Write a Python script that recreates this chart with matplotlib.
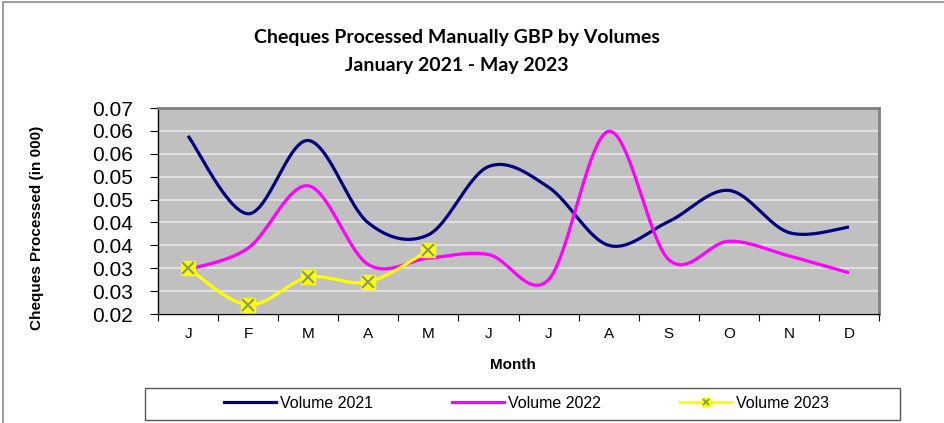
import numpy as np
import matplotlib
matplotlib.use("Agg")
import matplotlib.pyplot as plt
from matplotlib.lines import Line2D
from matplotlib.patches import Rectangle
from matplotlib.legend_handler import HandlerTuple

months = ["J", "F", "M", "A", "M", "J", "J", "A", "S", "O", "N", "D"]
v2021 = [0.0589, 0.0419, 0.0579, 0.0399, 0.0373, 0.0522, 0.0477, 0.0350, 0.0402, 0.0470, 0.0378, 0.0390]
v2022 = [0.0297, 0.0344, 0.0480, 0.0308, 0.0322, 0.0330, 0.0275, 0.0599, 0.0319, 0.0359, 0.0327, 0.0290]
v2023 = [0.0300, 0.0220, 0.0280, 0.0270, 0.0339]
yticks = [0.02, 0.025, 0.03, 0.035, 0.04, 0.045, 0.05, 0.055, 0.06, 0.065]
ytick_labels = ["0.02", "0.03", "0.03", "0.04", "0.04", "0.05", "0.05", "0.06", "0.06", "0.07"]
series_names = ["Volume 2021", "Volume 2022", "Volume 2023"]

W, H = 944, 423
DPI = 100
plt.rcParams['font.family'] = ['Liberation Sans', 'DejaVu Sans']


def smooth(xs, ys, n=40):
    """Excel-style smoothed line (Catmull-Rom Bezier through the points)."""
    P = np.column_stack([xs, ys]).astype(float)
    m = len(P)
    out = []
    for i in range(m - 1):
        p0 = P[i - 1] if i > 0 else P[i]
        p1 = P[i]
        p2 = P[i + 1]
        p3 = P[i + 2] if i + 2 < m else P[i + 1]
        b1 = p1 + (p2 - p0) / 6.0
        b2 = p2 - (p3 - p1) / 6.0
        t = np.linspace(0, 1, n)[:, None]
        seg = ((1 - t) ** 3) * p1 + 3 * ((1 - t) ** 2) * t * b1 + 3 * (1 - t) * t ** 2 * b2 + t ** 3 * p2
        out.append(seg if i == 0 else seg[1:])
    c = np.vstack(out)
    return c[:, 0], c[:, 1]


fig = plt.figure(figsize=(W / DPI, H / DPI), dpi=DPI)
fig.patch.set_facecolor("white")

L, R, T, B = 158, 879, 108, 314
ax = fig.add_axes([L / W, 1 - B / H, (R - L) / W, (B - T) / H])
ax.set_facecolor("#C0C0C0")

x = np.arange(len(months))
navy = "#000080"
mag = "#FF00FF"
yel = "#FFFF00"
xcol = "#8E9E5C"

sx, sy = smooth(x, v2021)
ax.plot(sx, sy, color=navy, lw=2.3, solid_capstyle="butt", zorder=3)
sx, sy = smooth(x, v2022)
ax.plot(sx, sy, color=mag, lw=2.3, solid_capstyle="butt", zorder=3)
x3 = np.arange(len(v2023))
sx, sy = smooth(x3, v2023)
ax.plot(sx, sy, color=yel, lw=2.3, solid_capstyle="butt", zorder=4)
ax.plot(x3, v2023, ls="none", marker="s", ms=10.5, mfc=yel, mec=yel, zorder=5)
ax.plot(x3, v2023, ls="none", marker="x", ms=8.5, mew=1.6, color=xcol, zorder=6)

ax.set_xlim(-0.5, 11.5)
ax.set_ylim(0.02, 0.065)
ax.set_yticks(yticks)
ax.set_yticklabels(ytick_labels)
ax.set_xticks(x)
ax.set_xticklabels(months)
ax.set_xticks(np.arange(-0.5, 12, 1), minor=True)
ax.tick_params(axis="x", which="major", length=0, pad=9, labelsize=11)
ax.tick_params(axis="x", which="minor", length=5, width=0.8, direction="out", color="black")
ax.tick_params(axis="y", which="major", length=6, width=0.8, direction="out", pad=12, labelsize=15)
ax.grid(axis="y", color="#EAEAEA", lw=1.1, zorder=1)
ax.set_axisbelow(True)
for s in ["top", "right"]:
    ax.spines[s].set_color("#808080")
    ax.spines[s].set_linewidth(2)
for s in ["left", "bottom"]:
    ax.spines[s].set_color("black")
    ax.spines[s].set_linewidth(1)

# Titles / labels
fig.text(457 / W, 1 - 38 / H, "Cheques Processed Manually GBP by Volumes", ha="center", va="center",
         fontsize=14, fontweight="bold", family=["Lato", "DejaVu Sans"])
fig.text(457 / W, 1 - 65 / H, "January 2021 - May 2023", ha="center", va="center",
         fontsize=14, fontweight="bold", family=["Lato", "DejaVu Sans"])
fig.text(37 / W, 1 - 228 / H, "Cheques Processed (in 000)", rotation=90, ha="center", va="center",
         fontsize=11, fontweight="bold")
fig.text(513 / W, 1 - 365 / H, "Month", ha="center", va="center", fontsize=11, fontweight="bold")

# Figure border
fig.patches.append(Rectangle((3 / W, -0.05), 1.1, 1 - 2 / H + 0.05, transform=fig.transFigure,
                             fill=False, ec="#8C8C8C", lw=1.2))

# Legend box
fig.patches.append(Rectangle((145 / W, 1 - 420 / H), 755 / W, 32 / H, transform=fig.transFigure,
                             fill=False, ec="#555555", lw=1.0))
h1 = Line2D([], [], color=navy, lw=2.3)
h2 = Line2D([], [], color=mag, lw=2.3)
h3a = Line2D([], [], color=yel, lw=2.3)
h3b = Line2D([], [], ls="none", marker="s", ms=6, mfc=yel, mec=yel)
h3c = Line2D([], [], ls="none", marker="x", ms=5, mew=1.4, color=xcol)
leg = fig.legend([h1, h2, (h3a, h3b, h3c)], series_names, loc="center",
                 bbox_to_anchor=(526.5 / W, 1 - 403.5 / H), ncol=3,
                 frameon=False, fontsize=11.5,
                 handlelength=3.25, handletextpad=0.3, columnspacing=4.9,
                 handler_map={tuple: HandlerTuple(ndivide=1, pad=0)})

fig.savefig("out.png", dpi=DPI)
